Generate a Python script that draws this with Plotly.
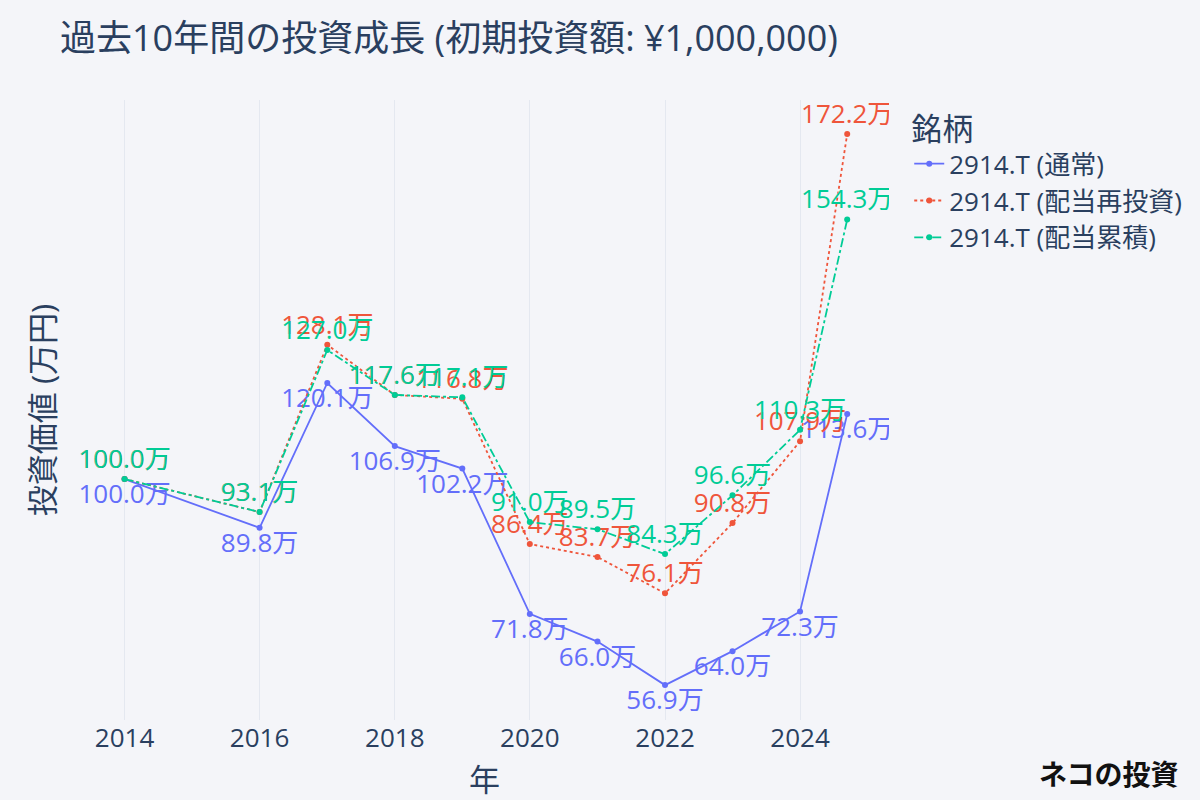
import plotly.graph_objects as go

dates = ["2014-01-01", "2016-01-01", "2017-01-01", "2018-01-01", "2019-01-01",
         "2020-01-01", "2021-01-01", "2022-01-01", "2023-01-01", "2024-01-01", "2024-09-12"]
normal = [100.0, 89.8, 120.1, 106.9, 102.2, 71.8, 66.0, 56.9, 64.0, 72.3, 113.6]
reinvest = [100.0, 93.1, 128.1, 117.6, 116.8, 86.4, 83.7, 76.1, 90.8, 107.9, 172.2]
cumulative = [100.0, 93.1, 127.0, 117.6, 117.1, 91.0, 89.5, 84.3, 96.6, 110.3, 154.3]

names = ["2914.T (通常)", "2914.T (配当再投資)", "2914.T (配当累積)"]
colors = ["#636efa", "#EF553B", "#00cc96"]
dashes = ["solid", "dot", "dashdot"]
positions = ["bottom center", "top center", "top center"]

fig = go.Figure()
for vals, name, col, dash, pos in zip([normal, reinvest, cumulative], names, colors, dashes, positions):
    fig.add_trace(go.Scatter(
        x=dates, y=vals, name=name, mode="lines+markers+text",
        text=[f"{v:.1f}万" for v in vals], textposition=pos,
        textfont=dict(color=col, size=26),
        line=dict(color=col, dash=dash, width=1.8),
        marker=dict(color=col, size=6),
    ))

bg = "#f4f5f9"
fig.update_layout(
    width=1200, height=800,
    paper_bgcolor=bg, plot_bgcolor=bg,
    font=dict(family="Open Sans, Noto Sans CJK JP, sans-serif", size=26, color="#2a3f5f"),
    title=dict(text="過去10年間の投資成長 (初期投資額: ¥1,000,000)", x=0.05, y=0.9525,
               yanchor="middle", font=dict(size=36)),
    margin=dict(l=80, r=311, t=100, b=80),
    legend=dict(title=dict(text="銘柄"), x=1.025, y=1, font=dict(size=26)),
    xaxis=dict(title=dict(text="年"), type="date", range=["2013-05-05", "2025-04-26"],
               dtick="M24", tick0="2014-01-01", tickformat="%Y", automargin=False,
               showgrid=True, gridcolor="#e4e8f0", zeroline=False, showline=False),
    yaxis=dict(title=dict(text="投資価値 (万円)"), range=[49.6, 179.3], automargin=False,
               showticklabels=False, showgrid=False, zeroline=False),
)
fig.add_annotation(text="<b>ネコの投資</b>", xref="paper", yref="paper", x=1.0, y=0.0,
                   xshift=291, yshift=-53, showarrow=False, xanchor="right", yanchor="middle",
                   font=dict(family="Noto Sans CJK JP", size=28, color="#111111"))
fig.write_html("out.html", config={"displayModeBar": False},
               post_script="document.body.style.margin='0';")
